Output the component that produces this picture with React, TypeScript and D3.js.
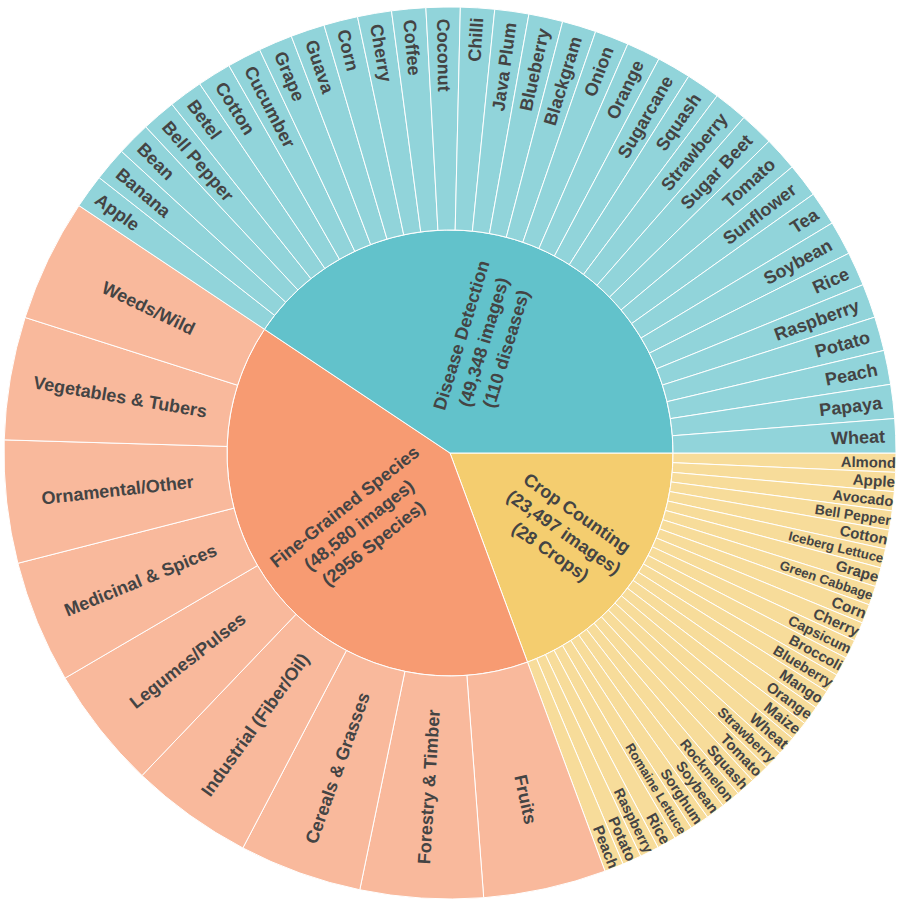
import React, { useMemo } from 'react';
import * as d3 from 'd3';

// ---- Data ----
const groupNames = ['Crop Counting', 'Fine-Grained Species', 'Disease Detection'];
const groupImages = [23497, 48580, 49348];
const groupSubtitles = ['(28 Crops)', '(2956 Species)', '(110 diseases)'];
const groupColors = ['#F4CD6F', '#F79B72', '#62C2CB'];

const cropCountingLeaves = [
  'Almond', 'Apple', 'Avocado', 'Bell Pepper', 'Cotton', 'Iceberg Lettuce', 'Grape',
  'Green Cabbage', 'Corn', 'Cherry', 'Capsicum', 'Broccoli', 'Blueberry', 'Mango',
  'Orange', 'Maize', 'Wheat', 'Strawberry', 'Tomato', 'Squash', 'Rockmelon', 'Soybean',
  'Sorghum', 'Romaine Lettuce', 'Rice', 'Raspberry', 'Potato', 'Peach',
];
const fineGrainedLeaves = [
  'Fruits', 'Forestry & Timber', 'Cereals & Grasses', 'Industrial (Fiber/Oil)',
  'Legumes/Pulses', 'Medicinal & Spices', 'Ornamental/Other', 'Vegetables & Tubers', 'Weeds/Wild',
];
const diseaseLeaves = [
  'Apple', 'Banana', 'Bean', 'Bell Pepper', 'Betel', 'Cotton', 'Cucumber', 'Grape', 'Guava',
  'Corn', 'Cherry', 'Coffee', 'Coconut', 'Chilli', 'Java Plum', 'Blueberry', 'Blackgram',
  'Onion', 'Orange', 'Sugarcane', 'Squash', 'Strawberry', 'Sugar Beet', 'Tomato', 'Sunflower',
  'Tea', 'Soybean', 'Rice', 'Raspberry', 'Potato', 'Peach', 'Papaya', 'Wheat',
];
const groupLeaves = [cropCountingLeaves, fineGrainedLeaves, diseaseLeaves];

// ---- Layout constants ----
const W = 900;
const H = 900;
const CX = 450;
const CY = 453;
const R = 446;
const FONT = "'Liberation Sans', Arial, Helvetica, sans-serif";
const FS = 18;
const LINE = 1.3;
const TEXT_COLOR = '#444444';

let ctx: CanvasRenderingContext2D | null = null;
function measure(t: string, size: number) {
  if (!ctx) ctx = document.createElement('canvas').getContext('2d');
  if (!ctx) return t.length * size * 0.6;
  ctx.font = `bold ${size}px ${FONT}`;
  return ctx.measureText(t).width;
}

// plotly-like radial text fitting inside a wedge
function fitRadial(w: number, h: number, r0: number, r1: number, halfAngle: number) {
  const a = w / h;
  const q = a + 1 / (2 * Math.tan(halfAngle));
  const sAng = r1 / Math.sqrt(4 * q * q + 1);
  const sRing = (r1 - r0 - 6) / (2 * a);
  if (sAng < sRing) {
    return { scale: Math.min(1, (2 * sAng) / h), rc: sAng * (2 * q - a) };
  }
  return { scale: Math.min(1, (2 * sRing) / h), rc: (r0 + r1) / 2 };
}

type Node = { name: string; value?: number; gi?: number; children?: Node[]; lines?: string[] };

export default function App() {
  const nodes = useMemo(() => {
    const rootData: Node = {
      name: 'root',
      children: groupNames.map((g, i) => ({
        name: g,
        gi: i,
        lines: [g, `(${d3.format(',')(groupImages[i])} images)`, groupSubtitles[i]],
        children: groupLeaves[i].map((l) => ({
          name: l,
          gi: i,
          value: groupImages[i] / groupLeaves[i].length,
        })),
      })),
    };
    const root = d3.hierarchy<Node>(rootData, (d) => d.children).sum((d) => d.value ?? 0);
    d3.partition<Node>().size([2 * Math.PI, 3])(root);
    return root.descendants().filter((d) => d.depth > 0) as d3.HierarchyRectangularNode<Node>[];
  }, []);

  const radius = d3.scaleLinear().domain([0, 1, 2]).range([0, R / 2, R]);
  const arc = d3.arc<any>();

  return (
    <svg width={W} height={H} style={{ position: 'absolute', left: 0, top: 0, background: '#fff' }}>
      <g transform={`translate(${CX},${CY})`}>
        {nodes.map((n, i) => {
          const r0 = radius(n.depth - 1);
          const r1 = radius(n.depth);
          const d = arc({
            innerRadius: r0,
            outerRadius: r1,
            startAngle: n.x0 + Math.PI / 2,
            endAngle: n.x1 + Math.PI / 2,
          }) as string;
          return (
            <path
              key={'p' + i}
              d={d}
              fill={groupColors[n.data.gi as number]}
              fillOpacity={n.depth === 2 ? 0.7 : 1}
              stroke="#ffffff"
              strokeWidth={1}
            />
          );
        })}
        {nodes.map((n, i) => {
          const r0 = radius(n.depth - 1);
          const r1 = radius(n.depth);
          const lines = n.data.lines ?? [n.data.name];
          const wMax = Math.max(...lines.map((l) => measure(l, FS)));
          const h = FS * (1.15 + LINE * (lines.length - 1));
          const half = (n.x1 - n.x0) / 2;
          const fit = fitRadial(wMax, h, r0, r1, half);
          const mid = (n.x0 + n.x1) / 2;
          let deg = (mid * 180) / Math.PI;
          if (deg > 180) deg -= 360;
          let rot = deg;
          if (deg > 90) rot = deg - 180;
          else if (deg < -90) rot = deg + 180;
          const x = fit.rc * Math.cos(mid);
          const y = fit.rc * Math.sin(mid);
          const fs = FS * fit.scale;
          return (
            <text
              key={'t' + i}
              transform={`translate(${x},${y}) rotate(${rot})`}
              textAnchor="middle"
              fontFamily={FONT}
              fontWeight="bold"
              fontSize={fs}
              fill={TEXT_COLOR}
            >
              {lines.map((l, j) => (
                <tspan key={j} x={0} y={(j - (lines.length - 1) / 2) * LINE * fs} dy="0.35em">
                  {l}
                </tspan>
              ))}
            </text>
          );
        })}
      </g>
    </svg>
  );
}
